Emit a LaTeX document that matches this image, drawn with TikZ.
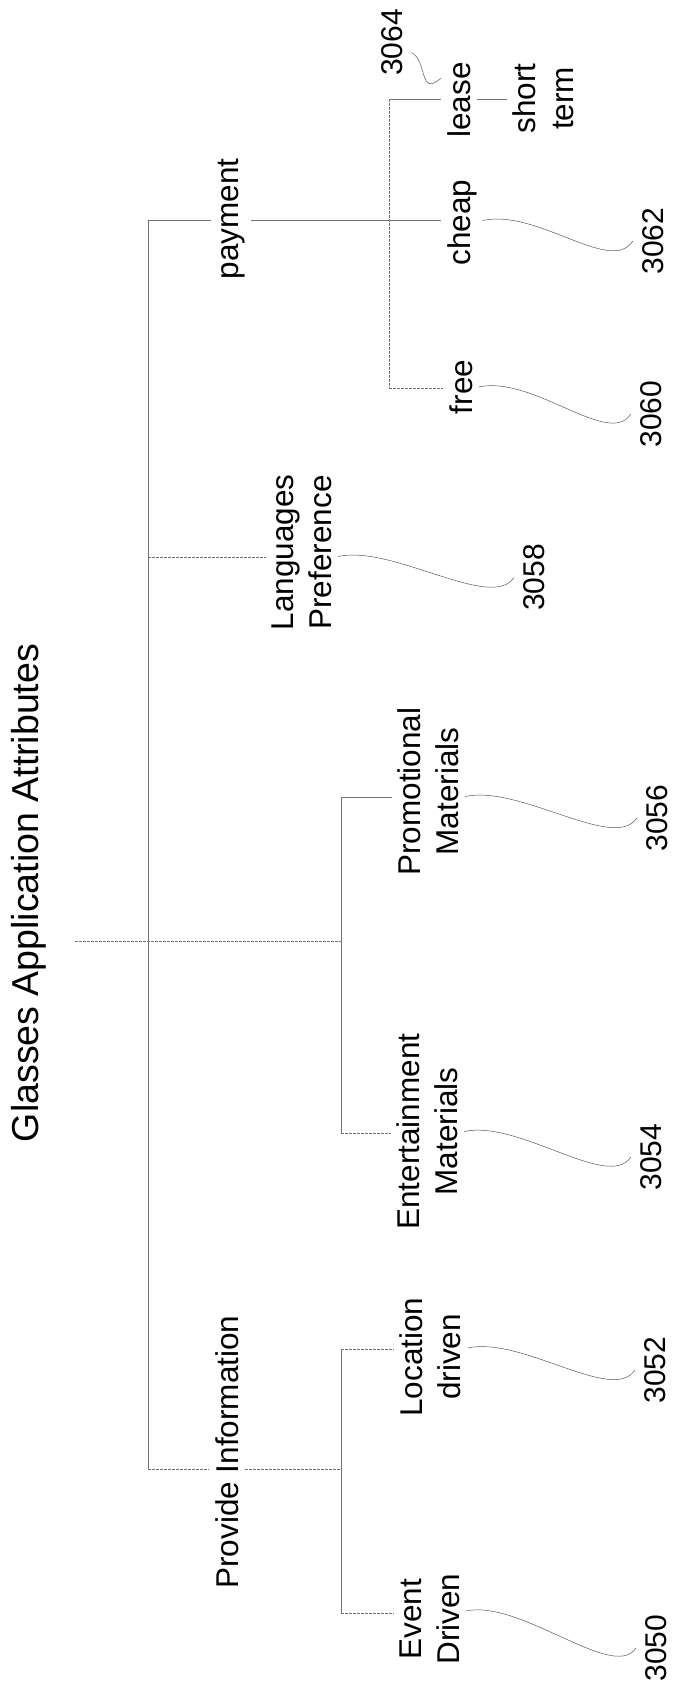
\documentclass[tikz,border=0pt]{standalone}
\usepackage{fontspec}
\setmainfont{Liberation Sans}
\usetikzlibrary{calc}
\begin{document}
\begin{tikzpicture}[
    x=1pt,y=-1pt,
    attr/.style={rotate=90,font=\fontsize{31.5}{38}\selectfont,align=center,
      inner xsep=0pt,inner ysep=6pt},
    refnum/.style={rotate=90,font=\fontsize{30}{36}\selectfont,anchor=base,
      inner xsep=0pt,inner ysep=9pt},
    link/.style={draw=black!55,line width=0.7pt},
    linkd/.style={link,dash pattern=on 3pt off 1pt},
    lead/.style={draw=black!65,line width=0.5pt}
  ]
  \useasboundingbox (0,0) rectangle (673,1691);

  % root
  \node[attr,font=\fontsize{37.5}{45}\selectfont,anchor=base] (title) at (38,893) {Glasses Application Attributes};

  % first level
  \node[attr,anchor=base] (pay) at (238,219) {payment};
  \node[attr] (lang) at (301.8,552.5) {Languages\\Preference};
  \node[attr,anchor=base] (prov) at (238,1452) {Provide Information};

  % second level
  \node[attr,anchor=base] (lease) at (470,100) {lease};
  \node[attr,anchor=base] (cheap) at (470,222.5) {cheap};
  \node[attr,anchor=base] (free) at (472,387) {free};
  \node[attr] (shortterm) at (543.3,98.5) {short\\term};
  \node[attr] (promo) at (428.3,791.5) {Promotional\\Materials};
  \node[attr] (ent) at (427.3,1131.5) {Entertainment\\Materials};
  \node[attr] (loc) at (430.7,1357) {Location\\driven};
  \node[attr] (event) at (429.5,1619) {Event\\Driven};

  % reference numerals
  \node[refnum] (n3064) at (402,42.5) {3064};
  \node[refnum] (n3062) at (663,241) {3062};
  \node[refnum] (n3060) at (661,414) {3060};
  \node[refnum] (n3058) at (544,577.5) {3058};
  \node[refnum] (n3056) at (667,818) {3056};
  \node[refnum] (n3054) at (661,1157) {3054};
  \node[refnum] (n3052) at (665,1370) {3052};
  \node[refnum] (n3050) at (666,1648) {3050};

  % junctions
  \coordinate (jRoot) at (75,941);
  \coordinate (jPay) at (148,220.7);
  \coordinate (jLang) at (148,557);
  \coordinate (jProv) at (148,1469);
  \coordinate (mTop) at (341,797);
  \coordinate (mBot) at (341,1133);
  \coordinate (pTop) at (341,1349);
  \coordinate (pBot) at (341,1613);
  \coordinate (bTop) at (389,99.3);
  \coordinate (bBot) at (389,388);

  % tree
  \draw[linkd] (jRoot) -- (jRoot -| mTop);
  \draw[link] (jPay) -- (jProv);
  \draw[link] (jPay) -- (jPay -| pay.north);
  \draw[link] (jPay -| pay.south) -- (jPay -| cheap.north);
  \draw[linkd] (jLang) -- (jLang -| lang.north);
  \draw[link] (mTop) -- (mBot);
  \draw[link] (mTop) -- (mTop -| promo.north);
  \draw[linkd] (mBot) -- (mBot -| ent.north);
  \draw[linkd] (jProv) -- (jProv -| prov.north);
  \draw[linkd] (jProv -| prov.south) -- (jProv -| pTop);
  \draw[link] (pTop) -- (pBot);
  \draw[linkd] (pTop) -- (pTop -| loc.north);
  \draw[linkd] (pBot) -- (pBot -| event.north);
  \draw[linkd] (bTop) -- (bBot);
  \draw[link] (bTop) -- (bTop -| lease.north);
  \draw[linkd] (bBot) -- (bBot -| free.north);
  \draw[link] (bTop -| lease.south) -- (bTop -| shortterm.north);

  % leader lines
  \foreach \a/\b/\s in {event/n3050/8,loc/n3052/9,ent/n3054/0,promo/n3056/-5,
                        lang/n3058/-4,free/n3060/0,cheap/n3062/2}
    \draw[lead] ([yshift=\s pt]\a.south) .. controls +(55,-12) and +(-22,34) .. (\b.north);
  \draw[lead] ([yshift=-10pt]n3064.south) .. controls +(16,8) and +(-22,20) .. ([yshift=22pt]lease.north);
\end{tikzpicture}
\end{document}
